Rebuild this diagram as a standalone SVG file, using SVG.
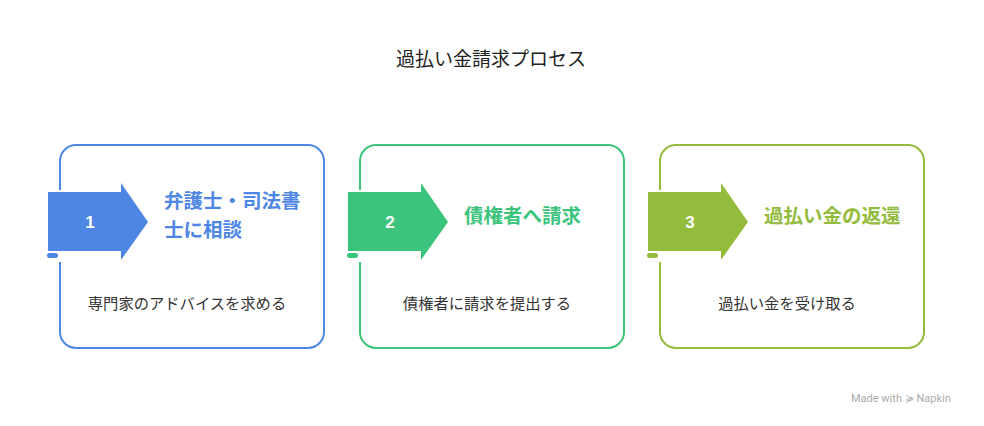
<svg xmlns="http://www.w3.org/2000/svg" width="984" height="426" viewBox="0 0 984 426">
<style>
.t{font-family:"Noto Sans CJK JP","Noto Sans",sans-serif}
.box{fill:#fff;stroke-width:2}
.num{font-family:"Liberation Sans",Arial,sans-serif;font-weight:bold;font-size:17px;fill:#fff;text-anchor:middle}
.head{font-weight:bold;font-size:19.5px}
.desc{font-size:15.3px;fill:#333;text-anchor:middle}
</style>
<rect width="984" height="426" fill="#fff"/>
<text class="t" x="491" y="66" font-size="19" fill="#222" text-anchor="middle">過払い金請求プロセス</text>
<g id="step1">
<rect class="box" x="60" y="145" width="264" height="203" rx="16" stroke="#4e86e4"/>
<rect x="55" y="190" width="10" height="72" fill="#fff"/>
<path d="M48 192H121V183L148 222L121 260V251H48Z" fill="#4e86e4"/>
<rect x="47" y="253" width="11" height="5" rx="2.5" fill="#4e86e4"/>
<text class="num" x="90" y="228">1</text>
<text class="t head" fill="#4e86e4" x="164" y="208">弁護士・司法書</text>
<text class="t head" fill="#4e86e4" x="164" y="237">士に相談</text>
<text class="t desc" x="187" y="309">専門家のアドバイスを求める</text>
</g>
<g id="step2">
<rect class="box" x="360" y="145" width="264" height="203" rx="16" stroke="#3cc47c"/>
<rect x="355" y="190" width="10" height="72" fill="#fff"/>
<path d="M348 192H421V183L448 222L421 260V251H348Z" fill="#3cc47c"/>
<rect x="347" y="253" width="11" height="5" rx="2.5" fill="#3cc47c"/>
<text class="num" x="390" y="228">2</text>
<text class="t head" fill="#3cc47c" x="464" y="223">債権者へ請求</text>
<text class="t desc" x="487" y="309">債権者に請求を提出する</text>
</g>
<g id="step3">
<rect class="box" x="660" y="145" width="264" height="203" rx="16" stroke="#93bb3c"/>
<rect x="655" y="190" width="10" height="72" fill="#fff"/>
<path d="M648 192H721V183L748 222L721 260V251H648Z" fill="#93bb3c"/>
<rect x="647" y="253" width="11" height="5" rx="2.5" fill="#93bb3c"/>
<text class="num" x="690" y="228">3</text>
<text class="t head" fill="#93bb3c" x="764" y="223">過払い金の返還</text>
<text class="t desc" x="787" y="309">過払い金を受け取る</text>
</g>
<g id="connectors"></g>
<text x="851" y="402" font-family="Roboto,sans-serif" font-size="11" fill="#aaa">Made with ≽ Napkin</text>
</svg>
